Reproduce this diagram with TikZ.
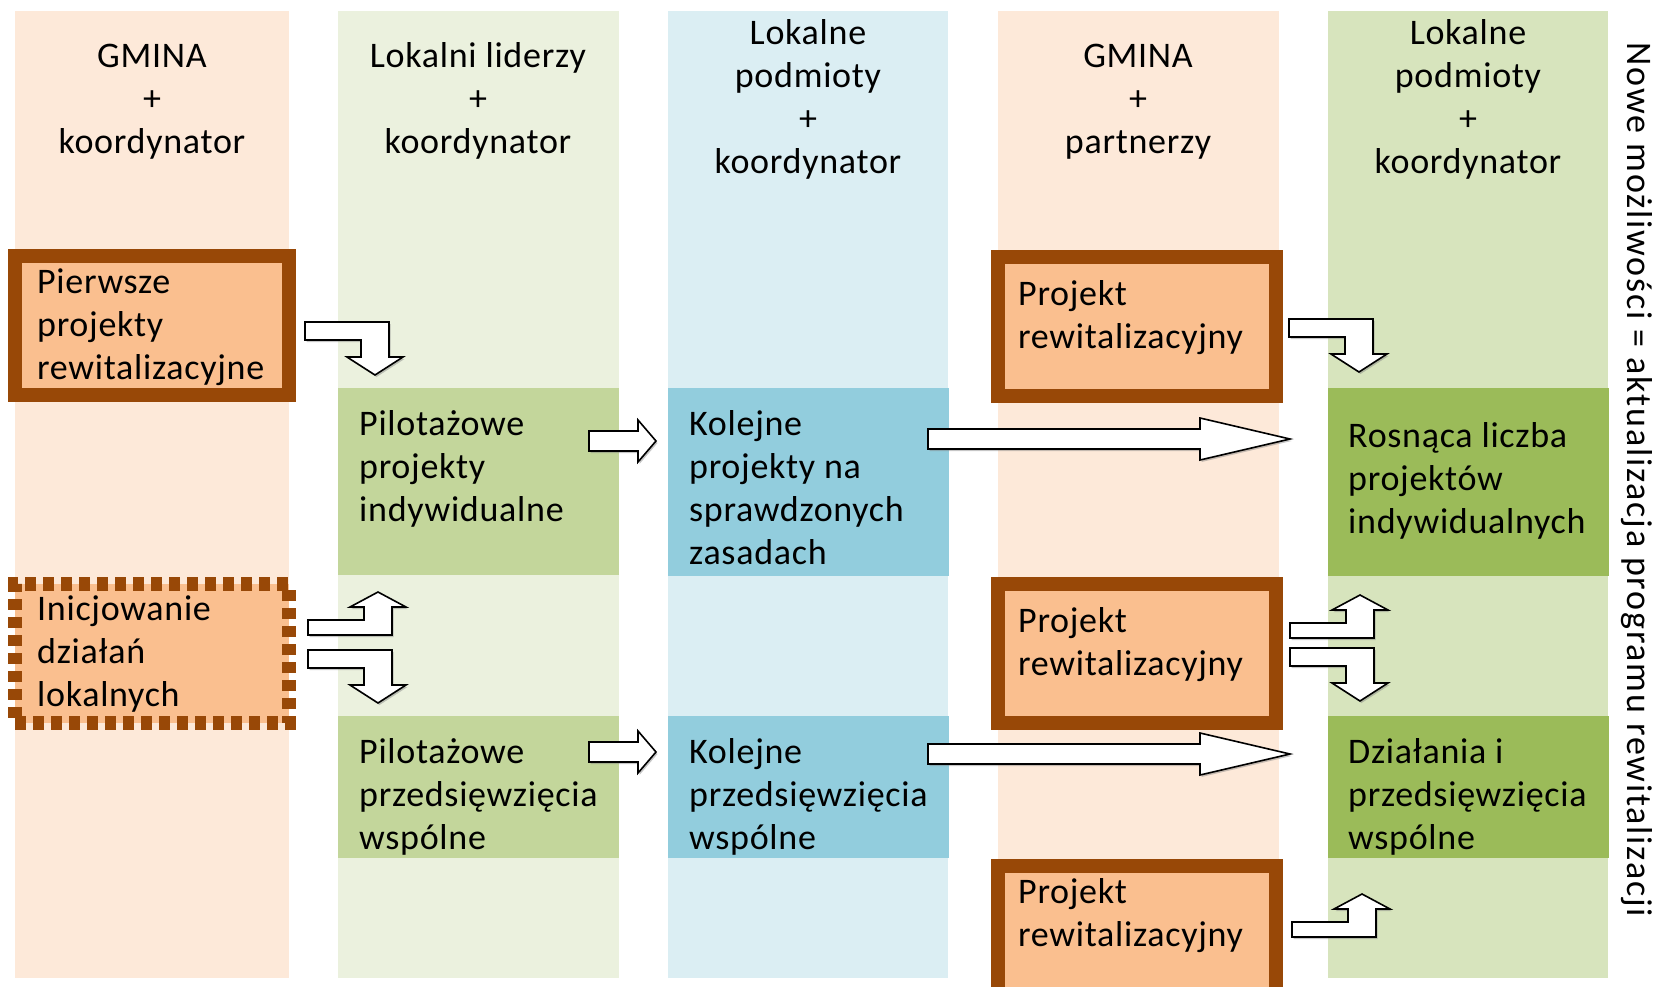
\documentclass[tikz,border=0pt]{standalone}
\usepackage{fontspec}
\setmainfont{Carlito}[LetterSpace=2]
\usetikzlibrary{positioning, calc, shadows}
\definecolor{gminabg}{RGB}{253,233,217}
\definecolor{liderbg}{RGB}{235,241,222}
\definecolor{podmiotbg}{RGB}{219,238,243}
\definecolor{nowebg}{RGB}{215,228,189}
\definecolor{projfill}{RGB}{250,191,143}
\definecolor{projdraw}{RGB}{152,72,7}
\definecolor{pilotfill}{RGB}{195,214,155}
\definecolor{kolejfill}{RGB}{146,205,221}
\definecolor{rosnfill}{RGB}{155,187,89}
\tikzstyle{column} = [rectangle, minimum height=967, anchor=north west, inner sep=0pt, outer sep=0pt]
\tikzstyle{fillbox} = [rectangle, minimum width=281, anchor=north west, inner sep=0pt, outer sep=0pt]
\tikzstyle{projbox} = [rectangle, draw=projdraw, fill=projfill, line width=14pt, minimum height=139, anchor=north west, outer sep=7pt]
\tikzstyle{headtxt} = [align=center, anchor=base, inner sep=0pt]
\tikzstyle{boxtxt} = [align=left, anchor=base west, inner sep=0pt]
\tikzstyle{blockarrow} = [draw=black, fill=white, line width=1.6pt, line join=miter, drop shadow={shadow xshift=1.5pt, shadow yshift=-2pt, opacity=0.45}]
\newcommand{\bentdown}[1]{\draw[blockarrow] (#1) -- ++(84,0) -- ++(0,35) -- ++(14,0) -- ++(-28,18) -- ++(-28,-18) -- ++(14,0) -- ++(0,-17) -- ++(-56,0) -- cycle;}
\newcommand{\bentup}[1]{\draw[blockarrow] (#1) -- ++(84,0) -- ++(0,-28) -- ++(14,0) -- ++(-28,-15) -- ++(-28,15) -- ++(14,0) -- ++(0,13) -- ++(-56,0) -- cycle;}
\newcommand{\flatarrow}[3]{\draw[blockarrow] ([yshift=10pt]#1) -- ++(#2,0) -- ++(0,-11) -- ++(#3,21) -- ++(-#3,21) -- ++(0,-11) -- ++(-#2,0) -- cycle;}

\begin{document}
\begin{tikzpicture}[x=1pt, y=-1pt, font=\fontsize{36}{43}\selectfont]
\useasboundingbox (0,0) rectangle (1658,986);
\clip (0,0) rectangle (1658,986);
% Columns
\node[column, fill=gminabg, minimum width=274] (K1) at (15,11) {};
\node[column, fill=liderbg, minimum width=281] (K2) at (338,11) {};
\node[column, fill=podmiotbg, minimum width=280] (K3) at (668,11) {};
\node[column, fill=gminabg, minimum width=281] (K4) at (998,11) {};
\node[column, fill=nowebg, minimum width=280] (K5) at (1328,11) {};

% Headers (anchor sits on the last line)
\node[headtxt] (H1) at (152,153) {GMINA\\+\\koordynator};
\node[headtxt] (H2) at (478,153) {Lokalni liderzy\\+\\koordynator};
\node[headtxt] (H3) at (808,173) {Lokalne\\podmioty\\+\\koordynator};
\node[headtxt] (H4) at (1138,153) {GMINA\\+\\partnerzy};
\node[headtxt] (H5) at (1468,173) {Lokalne\\podmioty\\+\\koordynator};

% Boxes
\node[projbox, minimum width=274] (P) at (8,249) {};
\node[projbox, minimum width=274, dash pattern=on 11pt off 7pt] (I) at (8,577) {};
\node[fillbox, fill=pilotfill, minimum height=187] (G1) at (338,388) {};
\node[fillbox, fill=pilotfill, minimum height=142] (G2) at (338,716) {};
\node[fillbox, fill=kolejfill, minimum height=188] (B1) at (668,388) {};
\node[fillbox, fill=kolejfill, minimum height=142] (B2) at (668,716) {};
\node[projbox, minimum width=278] (R1) at (991,250) {};
\node[projbox, minimum width=278] (R2) at (991,577) {};
\node[projbox, minimum width=278] (R3) at (991,859) {};
\node[fillbox, fill=rosnfill, minimum height=188] (D1) at (1328,388) {};
\node[fillbox, fill=rosnfill, minimum height=142] (D2) at (1328,716) {};

% Texts
\node[boxtxt] (Pt) at ($(P.north west)+(29,130)$) {Pierwsze\\projekty\\rewitalizacyjne};
\node[boxtxt] (It) at ($(I.north west)+(29,129)$) {Inicjowanie\\działań\\lokalnych};
\node[boxtxt] (G1t) at ($(G1.north west)+(21,133)$) {Pilotażowe\\projekty\\indywidualne};
\node[boxtxt] (G2t) at ($(G2.north west)+(21,133)$) {Pilotażowe\\przedsięwzięcia\\wspólne};
\node[boxtxt] (B1t) at ($(B1.north west)+(21,176)$) {Kolejne\\projekty na\\sprawdzonych\\zasadach};
\node[boxtxt] (B2t) at ($(B2.north west)+(21,133)$) {Kolejne\\przedsięwzięcia\\wspólne};
\node[boxtxt] (R1t) at ($(R1.north west)+(27,98)$) {Projekt\\rewitalizacyjny};
\node[boxtxt] (R2t) at ($(R2.north west)+(27,98)$) {Projekt\\rewitalizacyjny};
\node[boxtxt] (R3t) at ($(R3.north west)+(27,87)$) {Projekt\\rewitalizacyjny};
\node[boxtxt] (D1t) at ($(D1.north west)+(20,145)$) {Rosnąca liczba\\projektów\\indywidualnych};
\node[boxtxt] (D2t) at ($(D2.north west)+(20,133)$) {Działania i\\przedsięwzięcia\\wspólne};
\node[rotate=-90, font=\fontsize{36}{43}\selectfont\addfontfeature{LetterSpace=5}] (side) at (1637,480) {Nowe możliwości = aktualizacja programu rewitalizacji};

% Arrows
\coordinate (a1) at (305,322);
\coordinate (a2) at (308,635);
\coordinate (a3) at (308,650);
\coordinate (a4) at (589,441);
\coordinate (a5) at (589,752);
\coordinate (a6) at (928,439);
\coordinate (a7) at (928,754);
\coordinate (a8) at (1289,319);
\coordinate (a9) at (1290,638);
\coordinate (a10) at (1290,648);
\coordinate (a11) at (1292,937);
\bentdown{a1}
\bentup{a2}
\bentdown{a3}
\flatarrow{a4}{49}{18}
\flatarrow{a5}{49}{18}
\flatarrow{a6}{272}{90}
\flatarrow{a7}{272}{90}
\bentdown{a8}
\bentup{a9}
\bentdown{a10}
\bentup{a11}
\end{tikzpicture}
\end{document}
